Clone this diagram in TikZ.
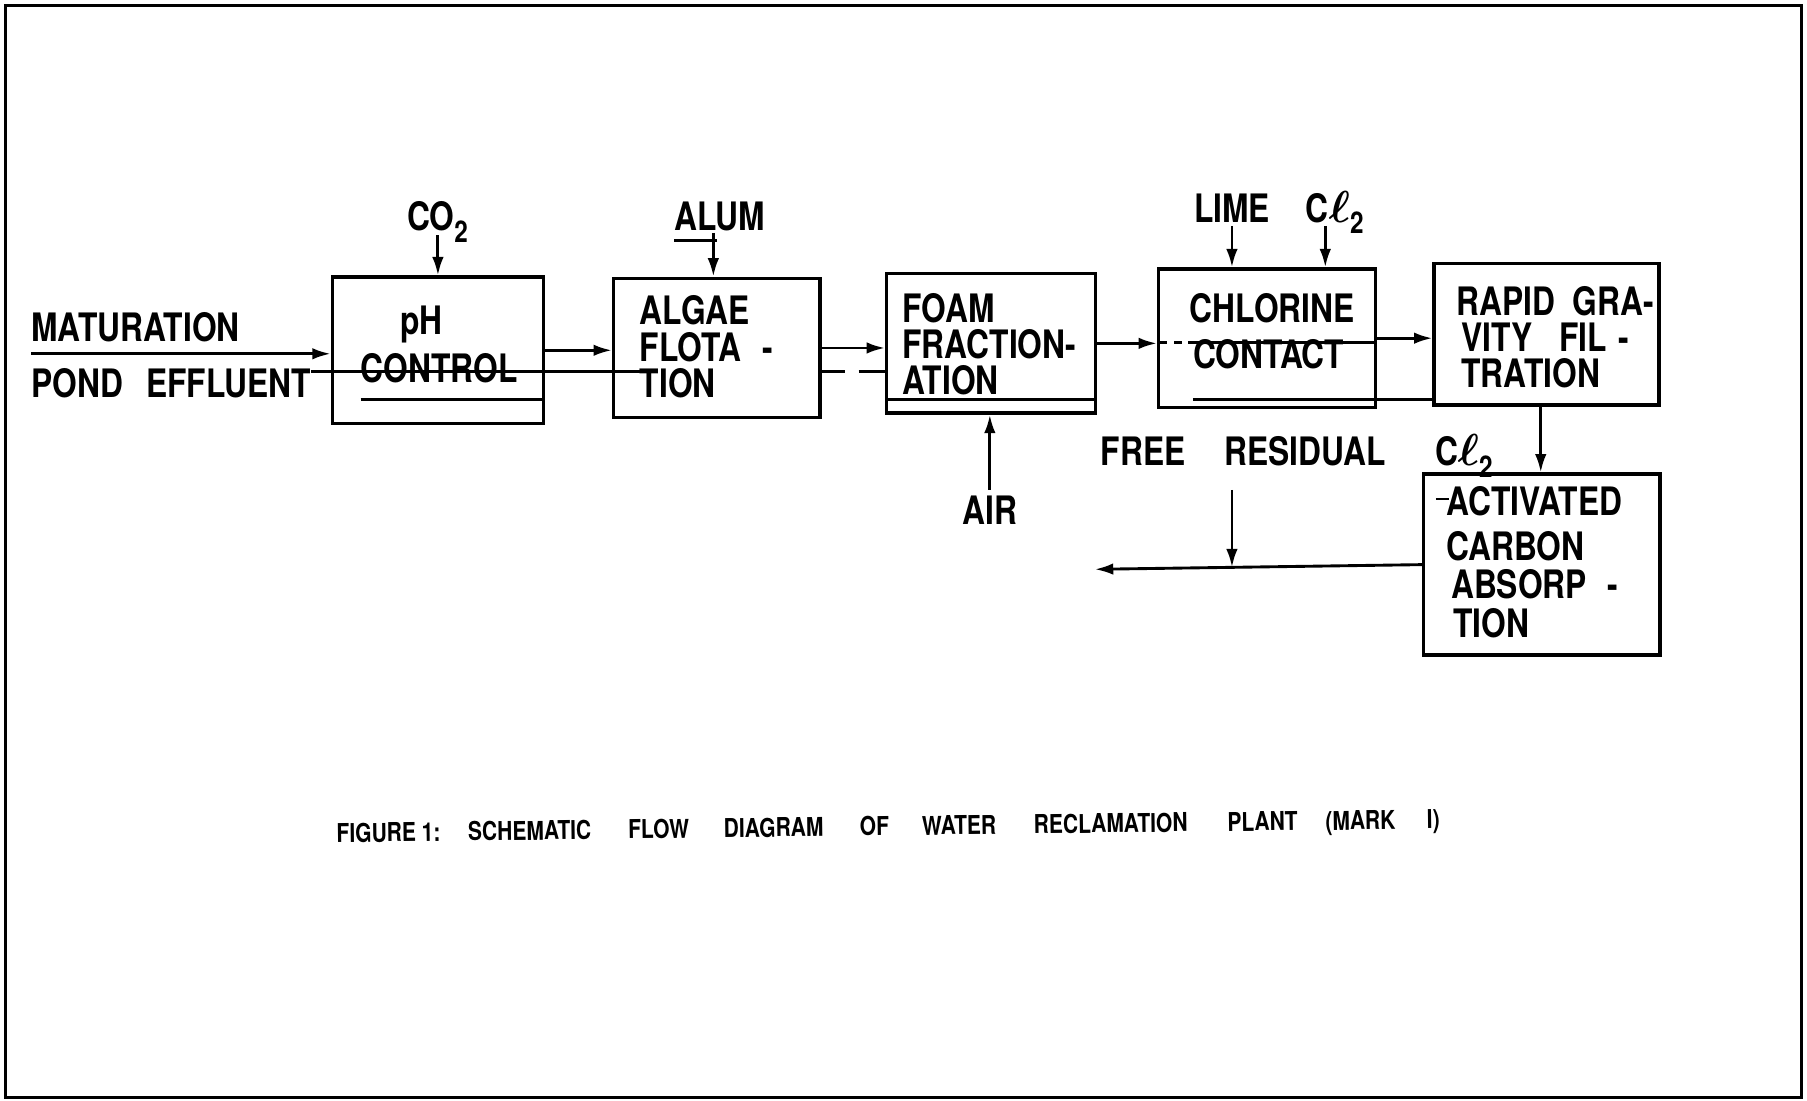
\documentclass[tikz,border=0pt]{standalone}
\usepackage{fontspec}
\usepackage{graphicx}
\setmainfont[FakeStretch=0.81]{TeX Gyre Heros}
\usetikzlibrary{arrows.meta,calc}
\newcommand\subtwo{\raisebox{-10pt}{\fontsize{26}{26}\selectfont 2}}
\newcommand\ellsym{\resizebox{!}{27pt}{\boldmath$\ell$}}
\tikzset{
  lbl/.style={font=\fontsize{34}{40}\selectfont\bfseries, inner sep=0pt, anchor=base west},
  captxt/.style={font=\fontsize{22.5}{26}\selectfont\bfseries, inner sep=0pt, anchor=base west, rotate=0.7},
  box/.style={draw, line width=2.9pt, inner sep=0pt, anchor=north west},
  flow/.style={line width=2.5pt, -{Latex[length=16pt,width=10pt]}},
  plainline/.style={line width=2.5pt},
}
\begin{document}
\begin{tikzpicture}[x=1pt,y=-1pt]
\useasboundingbox (0,0) rectangle (1568,955);
\draw[line width=2.8pt] (5,5) rectangle (1563,952);

% boxes
\node[box, minimum width=183pt, minimum height=127pt] (ph)   at (287,239) {};
\node[box, minimum width=179pt, minimum height=121pt] (alg)  at (531,240) {};
\node[box, minimum width=181pt, minimum height=121pt] (foam) at (768,236) {};
\node[box, minimum width=188pt, minimum height=120pt] (chl)  at (1004,232) {};
\node[box, minimum width=195pt, minimum height=123pt] (rap)  at (1243,227) {};
\node[box, minimum width=205pt, minimum height=157pt] (act)  at (1234,410) {};

% box texts
\node[lbl] (t-ph)   at (347,290) {pH};
\node[lbl] (t-ctl)  at (313,332) {CONTROL};
\node[lbl] (t-alg1) at (555,282) {ALGAE};
\node[lbl] (t-alg2) at (555,314) {FLOTA\hspace{18pt}-};
\node[lbl] (t-alg3) at (555,345) {TION};
\node[lbl] (t-fo1)  at (783,280) {FOAM};
\node[lbl] (t-fo2)  at (783,311) {FRACTION-};
\node[lbl] (t-fo3)  at (783,342) {ATION};
\node[lbl] (t-ch1)  at (1032,280) {CHLORINE};
\node[lbl] (t-ch2)  at (1035,320) {CONTACT};
\node[lbl] (t-ra1)  at (1264,274) {RAPID\hspace{15pt}GRA-};
\node[lbl] (t-ra2)  at (1268,305) {VITY\hspace{23pt}FIL\hspace{10pt}-};
\node[lbl] (t-ra3)  at (1268,336) {TRATION};
\node[lbl] (t-ac1)  at (1255,447) {ACTIVATED};
\node[lbl] (t-ac2)  at (1255,486) {CARBON};
\node[lbl] (t-ac3)  at (1259,519) {ABSORP\hspace{18pt}-};
\node[lbl] (t-ac4)  at (1261,553) {TION};

% outside labels
\node[lbl] (mat)  at (27,296) {MATURATION};
\node[lbl] (pond) at (27,345) {POND\hspace{20pt}EFFLUENT};
\node[lbl] (co2)  at (353,200) {CO\subtwo};
\node[lbl] (alum) at (585,200) {ALUM};
\node[lbl] (lime) at (1036,193) {LIME};
\node[lbl] (cl)   at (1133,193) {C\ellsym\subtwo};
\node[lbl] (free) at (955,404) {FREE\hspace{34pt}RESIDUAL};
\node[lbl] (cl2)  at (1245,404) {C\ellsym\subtwo};
\node[lbl] (air)  at (835,455) {AIR};

% main flow
\coordinate (in) at (27,307);
\draw[flow] (in) -- (ph.west |- in);
\draw[flow] (ph.east) -- (alg.west |- ph.east);
\draw[flow] (alg.east) -- (foam.west |- alg.east);
\draw[flow] (foam.east) -- (chl.west |- foam.east);
\draw[flow] (chl.east) -- (rap.west |- chl.east);
\coordinate (rv) at ($(rap.south)+(-5,0)$);
\draw[flow] (rv) -- (rv |- act.north);
\coordinate (out) at (950,494);
\draw[flow] (act.west) -- (out);

% chemical inputs
\coordinate (co2a) at (380,204);
\draw[flow] (co2a) -- (co2a |- ph.north);
\coordinate (aluma) at (619,209);
\draw[plainline] (alum.base west |- aluma) -- ++(37,0);
\draw[flow] ([yshift=7pt]aluma) -- (aluma |- alg.north);
\coordinate (limea) at (1069,196);
\draw[flow] (limea) -- (limea |- chl.north);
\coordinate (cla) at (1150,196);
\draw[flow] (cla) -- (cla |- chl.north);
\draw[flow] ([yshift=5pt]air.north) -- (air.north |- foam.south);
\coordinate (fr) at (1069,425);
\coordinate (frj) at ($(act.west)!0.581!(out)$);
\draw[flow] (fr) -- (fr |- frj);

% stray marks of the original drawing
\draw[plainline] (270,322) -- (560,322);
\draw[plainline] (711,322) -- (733,322);
\draw[plainline] (745,322) -- (768,322);
\draw[plainline] (313,347) -- (470,347);
\draw[plainline] (768,347) -- (949,347);
\draw[plainline] (1006,297) -- (1013,297);
\draw[plainline] (1019,297) -- (1026,297);
\draw[plainline] (1031,297) -- (1192,297);
\draw[plainline] (1035,347) -- (1243,347);
\draw[plainline] (1246,433) -- (1257,433);

% caption
\node[captxt] (c1)  at (292,731)   {FIGURE 1:};
\node[captxt] (c2)  at (406,729.6) {SCHEMATIC};
\node[captxt] (c3)  at (545,727.8) {FLOW};
\node[captxt] (c4)  at (628,726.8) {DIAGRAM};
\node[captxt] (c5)  at (746,725.3) {OF};
\node[captxt] (c6)  at (800,724.6) {WATER};
\node[captxt] (c7)  at (897,723.4) {RECLAMATION};
\node[captxt] (c8)  at (1065,721.3) {PLANT};
\node[captxt] (c9)  at (1150,720.3) {(MARK};
\node[captxt] (c10) at (1238,719.2) {I)};
\end{tikzpicture}
\end{document}
